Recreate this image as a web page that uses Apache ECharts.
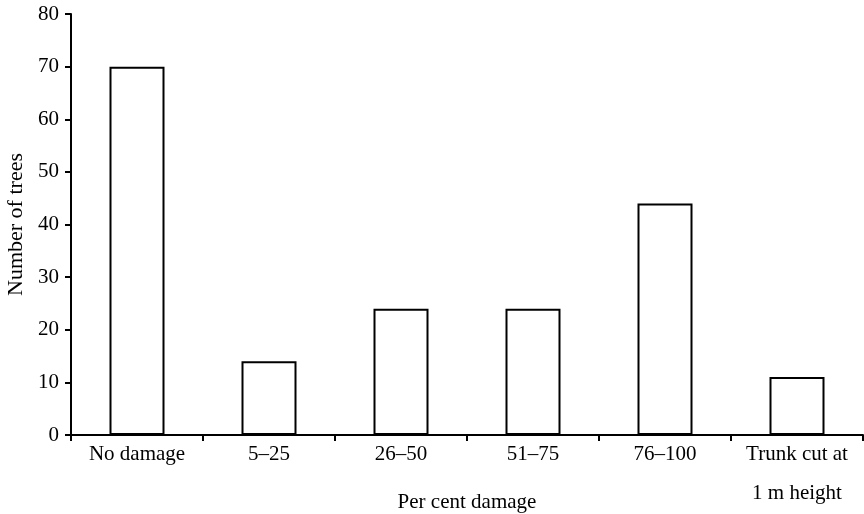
<!DOCTYPE html>
<html>
<head>
<meta charset="utf-8">
<script src="https://cdn.jsdelivr.net/npm/echarts@6/dist/echarts.min.js"></script>
<style>html,body{margin:0;padding:0;background:#fff}#c{width:864px;height:514px}</style>
</head>
<body>
<div id="c"></div>
<script>
const categories = ['No damage', '5–25', '26–50', '51–75', '76–100', 'Trunk cut at\n1 m height'];
const values = [70, 14, 24, 24, 44, 11];
const yTicks = { min: 0, max: 80, interval: 10 };

const font = 'Liberation Serif';
const chart = echarts.init(document.getElementById('c'));
chart.setOption({
  animation: false,
  backgroundColor: '#fff',
  grid: { left: 71, right: 1, top: 14, bottom: 79, containLabel: false, outerBoundsMode: 'none' },
  xAxis: {
    type: 'category',
    data: categories,
    name: 'Per cent damage',
    nameLocation: 'middle',
    nameGap: 57,
    nameMoveOverlap: false,
    nameTextStyle: { fontFamily: font, fontSize: 21, color: '#000' },
    axisLine: { lineStyle: { color: '#000', width: 2 } },
    axisTick: { show: true, length: 6, lineStyle: { color: '#000', width: 2 } },
    axisLabel: { fontFamily: font, fontSize: 21, color: '#000', margin: 0, lineHeight: 39, interval: 0 },
    splitLine: { show: false }
  },
  yAxis: {
    type: 'value',
    min: yTicks.min, max: yTicks.max, interval: yTicks.interval,
    name: 'Number of trees',
    nameLocation: 'middle',
    nameGap: 44,
    nameMoveOverlap: false,
    nameTextStyle: { fontFamily: font, fontSize: 22, color: '#000' },
    axisLine: { show: true, lineStyle: { color: '#000', width: 2 } },
    axisTick: { show: true, length: 6, lineStyle: { color: '#000', width: 2 } },
    axisLabel: { fontFamily: font, fontSize: 21, color: '#000', margin: 12 },
    splitLine: { show: false }
  },
  series: [{
    type: 'bar',
    data: values,
    barWidth: 55,
    itemStyle: { color: '#fff', borderColor: '#000', borderWidth: 2 }
  }]
});
</script>
</body>
</html>
